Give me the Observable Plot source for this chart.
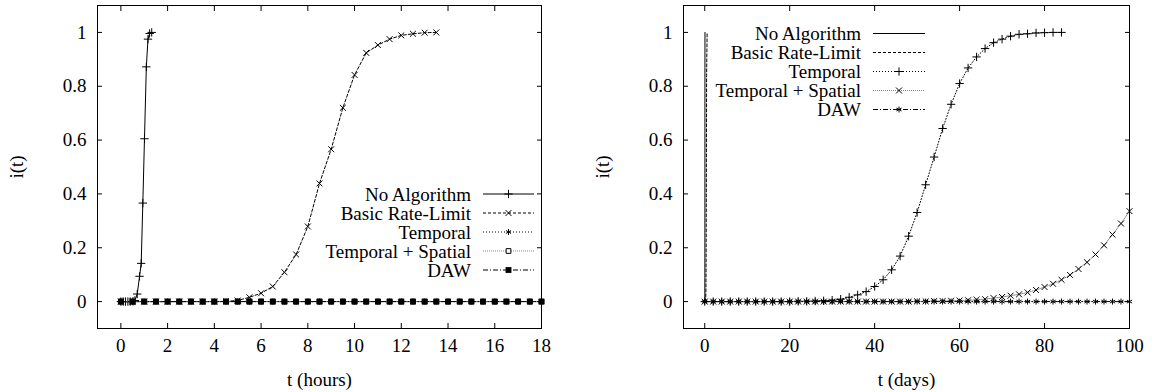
<!DOCTYPE html>
<html><head><meta charset="utf-8">
<script src="https://cdn.jsdelivr.net/npm/d3@7"></script>
<script src="https://cdn.jsdelivr.net/npm/@observablehq/plot@0.6"></script>
<style>
body{margin:0;background:#fff;}
#wrap{position:relative;width:1156px;height:392px;overflow:hidden;}
#wrap svg{position:absolute;top:0;}
#wrap svg, #wrap svg text{font-family:'Liberation Serif','Times New Roman',Times,serif !important;font-size:19px !important;}
</style></head><body><div id="wrap"></div>
<script>
// ---------- data ----------
const seriesNames = ["No Algorithm", "Basic Rate-Limit", "Temporal", "Temporal + Spatial", "DAW"];

// Left panel (hours)
const noAlgHours = [0, 0.1, 0.2, 0.3, 0.4, 0.52, 0.6, 0.7, 0.8, 0.87, 0.94, 1.01, 1.09, 1.16, 1.23, 1.32];
const noAlgHoursVal = [0, 0, 0, 0, 0, 0.001, 0.004, 0.028, 0.094, 0.142, 0.366, 0.605, 0.872, 0.975, 0.996, 1.0];
const basicHours = [0, 0.5, 1, 1.5, 2, 2.5, 3, 3.5, 4, 4.5, 5, 5.5, 6, 6.5, 7, 7.5, 8, 8.5, 9, 9.5, 10, 10.5, 11, 11.5, 12, 12.5, 13, 13.5];
const basicHoursVal = [0, 0, 0, 0, 0, 0, 0, 0, 0, 0.001, 0.004, 0.016, 0.031, 0.056, 0.109, 0.175, 0.279, 0.439, 0.566, 0.72, 0.842, 0.924, 0.953, 0.975, 0.989, 0.995, 0.999, 1.0];
const hoursGrid = [0, 0.5, 1, 1.5, 2, 2.5, 3, 3.5, 4, 4.5, 5, 5.5, 6, 6.5, 7, 7.5, 8, 8.5, 9, 9.5, 10, 10.5, 11, 11.5, 12, 12.5, 13, 13.5, 14, 14.5, 15, 15.5, 16, 16.5, 17, 17.5, 18];
const temporalHoursVal = [0, 0, 0, 0, 0, 0, 0, 0, 0, 0, 0, 0, 0, 0, 0, 0, 0, 0, 0, 0, 0, 0, 0, 0, 0, 0, 0, 0, 0, 0, 0, 0, 0, 0, 0, 0, 0];
const spatialHoursVal = [0, 0, 0, 0, 0, 0, 0, 0, 0, 0, 0, 0, 0, 0, 0, 0, 0, 0, 0, 0, 0, 0, 0, 0, 0, 0, 0, 0, 0, 0, 0, 0, 0, 0, 0, 0, 0];
const dawHoursVal = [0, 0, 0, 0, 0, 0, 0, 0, 0, 0, 0, 0, 0, 0, 0, 0, 0, 0, 0, 0, 0, 0, 0, 0, 0, 0, 0, 0, 0, 0, 0, 0, 0, 0, 0, 0, 0];

// Right panel (days)
const noAlgDays = [0, 0.02, 0.03, 0.04, 0.05, 0.056];
const noAlgDaysVal = [0, 0.003, 0.09, 0.37, 0.87, 1.0];
const basicDays = [0, 0.2, 0.27, 0.31, 0.35, 0.4, 0.44, 0.56];
const basicDaysVal = [0, 0.004, 0.03, 0.11, 0.28, 0.57, 0.84, 1.0];
const temporalDays = [0, 2, 4, 6, 8, 10, 12, 14, 16, 18, 20, 22, 24, 26, 28, 30, 32, 34, 36, 38, 40, 42, 44, 46, 48, 50, 52, 54, 56, 58, 60, 62, 64, 66, 68, 70, 72, 74, 76, 78, 80, 82, 84];
const temporalDaysVal = [0, 0, 0, 0, 0, 0, 0, 0, 0, 0, 0, 0.001, 0.001, 0.002, 0.003, 0.005, 0.009, 0.016, 0.025, 0.037, 0.056, 0.081, 0.118, 0.169, 0.243, 0.331, 0.434, 0.537, 0.643, 0.733, 0.81, 0.868, 0.909, 0.94, 0.962, 0.975, 0.986, 0.993, 0.995, 0.998, 0.999, 1.0, 1.0];
const daysGrid = [0, 2, 4, 6, 8, 10, 12, 14, 16, 18, 20, 22, 24, 26, 28, 30, 32, 34, 36, 38, 40, 42, 44, 46, 48, 50, 52, 54, 56, 58, 60, 62, 64, 66, 68, 70, 72, 74, 76, 78, 80, 82, 84, 86, 88, 90, 92, 94, 96, 98, 100];
const spatialDaysVal = [0, 0, 0, 0, 0, 0, 0, 0, 0, 0, 0, 0, 0, 0, 0, 0, 0, 0, 0, 0, 0, 0, 0, 0, 0, 0.001, 0.001, 0.002, 0.002, 0.003, 0.004, 0.005, 0.007, 0.009, 0.013, 0.017, 0.022, 0.027, 0.034, 0.043, 0.054, 0.066, 0.081, 0.099, 0.121, 0.146, 0.175, 0.209, 0.249, 0.29, 0.336];
const dawDaysVal = [0, 0, 0, 0, 0, 0, 0, 0, 0, 0, 0, 0, 0, 0, 0, 0, 0, 0, 0, 0, 0, 0, 0, 0, 0, 0, 0, 0, 0, 0, 0, 0, 0, 0, 0, 0, 0, 0, 0, 0, 0, 0, 0, 0, 0, 0, 0, 0, 0, 0, 0];

const hourTicks = [0, 2, 4, 6, 8, 10, 12, 14, 16, 18];
const dayTicks = [0, 20, 40, 60, 80, 100];
const yTicks = [0, 0.2, 0.4, 0.6, 0.8, 1];
const yTickLabels = ["0", "0.2", "0.4", "0.6", "0.8", "1"];

// ---------- styles ----------
const FONT = "'Liberation Serif', 'Times New Roman', Times, serif";
const DASH = ["none", "3,2", "1,2", "1,1", "5,2,1,2"];
const LINECOLOR = ["#000", "#000", "#000", "#888", "#000"];
const leftSymbols = ["plus", "times", "asterisk", "square2", "square"];
const rightSymbols = [null, null, "plus", "times", "asterisk"];

function rows(t, v) { return t.map((x, i) => ({t: x, v: v[i]})); }

const leftSeries = [
  rows(noAlgHours, noAlgHoursVal),
  rows(basicHours, basicHoursVal),
  rows(hoursGrid, temporalHoursVal),
  rows(hoursGrid, spatialHoursVal),
  rows(hoursGrid, dawHoursVal)
];
const rightSeries = [
  rows(noAlgDays, noAlgDaysVal),
  rows(basicDays, basicDaysVal),
  rows(temporalDays, temporalDaysVal),
  rows(daysGrid, spatialDaysVal),
  rows(daysGrid, dawDaysVal)
];

function symbolStyle(sym) {
  if (sym === "square") return {fill: "#000", stroke: "none", r: 3.3};
  if (sym === "square2") return {fill: "#fff", stroke: "#000", r: 3.0};
  return {fill: "none", stroke: "#000", r: 2.8};
}

function panel({series, symbols, xDomain, xTicks, xLabel, marginLeft, marginRight}) {
  const marks = [];
  series.forEach((data, i) => {
    marks.push(Plot.line(data, {x: "t", y: "v", stroke: LINECOLOR[i], strokeWidth: 1, strokeDasharray: DASH[i]}));
    if (symbols[i]) {
      const st = symbolStyle(symbols[i]);
      marks.push(Plot.dot(data, {x: "t", y: "v", symbol: symbols[i], r: st.r, fill: st.fill, stroke: st.stroke, strokeWidth: 1}));
    }
  });
  const fmt = d => yTickLabels[yTicks.indexOf(d)];
  marks.push(
    Plot.frame({stroke: "#000", strokeWidth: 1}),
    Plot.axisX(xTicks, {anchor: "bottom", tickSize: 0, tickPadding: 10, label: xLabel, labelAnchor: "center", labelArrow: "none", labelOffset: 57, fill: "#000"}),
    Plot.axisX(xTicks, {anchor: "bottom", tickSize: -5, tickFormat: () => "", label: null, stroke: "#000"}),
    Plot.axisX(xTicks, {anchor: "top", tickSize: -5, tickFormat: () => "", label: null, stroke: "#000"}),
    Plot.axisY(yTicks, {anchor: "left", tickSize: 0, tickPadding: 11, tickFormat: fmt, label: "i(t)", labelAnchor: "center", labelArrow: "none", labelOffset: 88, fill: "#000"}),
    Plot.axisY(yTicks, {anchor: "left", tickSize: -5, tickFormat: () => "", label: null, stroke: "#000"}),
    Plot.axisY(yTicks, {anchor: "right", tickSize: -5, tickFormat: () => "", label: null, stroke: "#000"})
  );
  return Plot.plot({
    width: 578, height: 392,
    marginLeft, marginRight, marginTop: 5, marginBottom: 64,
    x: {type: "linear", domain: xDomain},
    y: {type: "linear", domain: [-0.1, 1.1]},
    style: "font-family: " + FONT + "; font-size: 19px; color: #000; background: #fff;",
    marks
  });
}

const wrap = document.getElementById("wrap");
const left = panel({series: leftSeries, symbols: leftSymbols, xDomain: [-1, 18], xTicks: hourTicks, xLabel: "t (hours)", marginLeft: 97, marginRight: 37});
left.style.left = "0px";
wrap.appendChild(left);
const right = panel({series: rightSeries, symbols: rightSymbols, xDomain: [-5, 100], xTicks: dayTicks, xLabel: "t (days)", marginLeft: 105, marginRight: 27});
right.style.left = "578px";
wrap.appendChild(right);

// ---------- legends (overlay) ----------
const ov = d3.select(wrap).append("svg").attr("width", 1156).attr("height", 392)
  .style("left", "0px").style("pointer-events", "none")
  .attr("font-family", FONT).attr("font-size", 19);

const symMap = {plus: d3.symbolPlus, times: d3.symbolTimes, asterisk: d3.symbolAsterisk, square: d3.symbolSquare, square2: d3.symbolSquare2};

function legend(textX, x1, x2, y0, gap, symbols) {
  seriesNames.forEach((name, i) => {
    const y = y0 + i * gap;
    ov.append("text").attr("x", textX).attr("y", y).attr("text-anchor", "end")
      .attr("dominant-baseline", "central").attr("fill", "#000").text(name);
    ov.append("line").attr("x1", x1).attr("x2", x2).attr("y1", y).attr("y2", y)
      .attr("stroke", LINECOLOR[i]).attr("stroke-width", 1).attr("stroke-dasharray", DASH[i] === "none" ? null : DASH[i]);
    const s = symbols[i];
    if (s) {
      const st = symbolStyle(s);
      ov.append("path").attr("d", d3.symbol(symMap[s], Math.PI * st.r * st.r)())
        .attr("transform", `translate(${(x1 + x2) / 2},${y})`)
        .attr("fill", st.fill).attr("stroke", st.stroke).attr("stroke-width", 1);
    }
  });
}
legend(471, 483, 534, 194, 19, leftSymbols);
legend(861, 873, 925, 33.5, 19, rightSymbols);
</script></body></html>
